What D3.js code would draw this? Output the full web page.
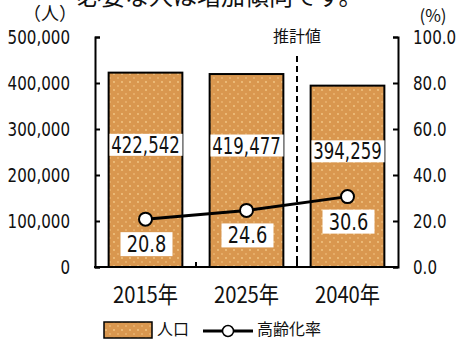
<!DOCTYPE html>
<html>
<head>
<meta charset="utf-8">
<script src="https://cdn.jsdelivr.net/npm/d3@7"></script>
<style>
  body { margin: 0; background: #fff; }
  svg { display: block; }
  .num { font-family: "DejaVu Sans Condensed", "DejaVu Sans", sans-serif; }
  .jp { font-family: "Noto Sans CJK JP", sans-serif; }
</style>
</head>
<body>
<svg id="chart" width="459" height="340"></svg>
<script>
const years = ["2015年", "2025年", "2040年"];
const population = [422542, 419477, 394259];
const agingRate = [20.8, 24.6, 30.6];
const leftTicks = [0, 100000, 200000, 300000, 400000, 500000];
const rightTicks = [0, 20, 40, 60, 80, 100];

const svg = d3.select("#chart");
const plotL = 95, plotR = 398, plotT = 37, plotB = 267;

const x = d3.scaleBand().domain(years).range([plotL, plotR]).paddingInner(0.27).paddingOuter(0.135);
const yL = d3.scaleLinear().domain([0, 500000]).range([plotB, plotT]);
const yR = d3.scaleLinear().domain([0, 100]).range([plotB, plotT]);

// squeeze numbers horizontally, the original uses a narrow face
const narrow = (px, py, s) => `translate(${px},${py}) scale(${s},1)`;

// dotted orange fill
const defs = svg.append("defs");
const pat = defs.append("pattern")
    .attr("id", "dots")
    .attr("patternUnits", "userSpaceOnUse")
    .attr("width", 8).attr("height", 8);
pat.append("rect").attr("width", 8).attr("height", 8).attr("fill", "#d9974f");
pat.append("circle").attr("cx", 2).attr("cy", 2).attr("r", 0.9).attr("fill", "#f3c887");
pat.append("circle").attr("cx", 6).attr("cy", 6).attr("r", 0.9).attr("fill", "#ecb673");

// headline cut off at the top
svg.append("text").attr("class", "jp")
    .attr("x", 77).attr("y", 5)
    .attr("font-size", 24).attr("fill", "#111")
    .text("必要な人は増加傾向です。");

// bars
svg.append("g").selectAll("rect")
    .data(population)
    .enter().append("rect")
    .attr("x", (d, i) => x(years[i]))
    .attr("y", d => yL(d))
    .attr("width", x.bandwidth())
    .attr("height", d => plotB - yL(d))
    .attr("fill", "url(#dots)")
    .attr("stroke", "#000")
    .attr("stroke-width", 2);

// estimate divider
const divX = (x(years[1]) + x.bandwidth() + x(years[2])) / 2;
svg.append("line")
    .attr("x1", divX).attr("x2", divX)
    .attr("y1", 56).attr("y2", plotB)
    .attr("stroke", "#000").attr("stroke-width", 2)
    .attr("stroke-dasharray", "6,4");
svg.append("text").attr("class", "jp")
    .attr("x", divX).attr("y", 42)
    .attr("text-anchor", "middle")
    .attr("font-size", 16).attr("fill", "#111")
    .text("推計値");

// axes
const axisL = d3.axisRight(yL).tickValues(leftTicks).tickSize(5).tickFormat("");
const gL = svg.append("g").attr("transform", `translate(${plotL},0)`).call(axisL);
const axisR = d3.axisLeft(yR).tickValues(rightTicks).tickSize(5).tickFormat("");
const gR = svg.append("g").attr("transform", `translate(${plotR},0)`).call(axisR);
[gL, gR].forEach(g => {
    g.select(".domain").attr("stroke", "#000").attr("stroke-width", 2);
    g.selectAll(".tick line").attr("stroke", "#000").attr("stroke-width", 2);
});
svg.append("line")
    .attr("x1", plotL - 1).attr("x2", plotR + 1)
    .attr("y1", plotB).attr("y2", plotB)
    .attr("stroke", "#000").attr("stroke-width", 2);
// category boundary ticks
svg.append("g").selectAll("line")
    .data(years.slice(1))
    .enter().append("line")
    .attr("x1", d => x(d) - x.step() * x.paddingInner() / 2)
    .attr("x2", d => x(d) - x.step() * x.paddingInner() / 2)
    .attr("y1", plotB).attr("y2", plotB - 5)
    .attr("stroke", "#000").attr("stroke-width", 2);

const fmtL = d3.format(",");
svg.append("g").selectAll("text")
    .data(leftTicks)
    .enter().append("text")
    .attr("class", "num")
    .attr("transform", d => narrow(70, yL(d) + 7, 0.84))
    .attr("text-anchor", "end")
    .attr("font-size", 20).attr("fill", "#111")
    .text(d => d === 0 ? "0" : fmtL(d));
svg.append("g").selectAll("text")
    .data(rightTicks)
    .enter().append("text")
    .attr("class", "num")
    .attr("transform", d => narrow(413, yR(d) + 7, 0.84))
    .attr("font-size", 20).attr("fill", "#111")
    .text(d => d.toFixed(1));

svg.append("text").attr("class", "jp")
    .attr("x", 50).attr("y", 20)
    .attr("text-anchor", "middle")
    .attr("font-size", 18).attr("fill", "#111")
    .text("（人）");
svg.append("text").attr("class", "jp")
    .attr("x", 433).attr("y", 22)
    .attr("text-anchor", "middle")
    .attr("font-size", 17).attr("fill", "#111")
    .text("(%)");

// x labels
svg.append("g").selectAll("text")
    .data(years)
    .enter().append("text")
    .attr("class", "jp")
    .attr("transform", d => narrow(x(d) + x.bandwidth() / 2, 303, 0.88))
    .attr("text-anchor", "middle")
    .attr("font-size", 23).attr("fill", "#111")
    .text(d => d);

// population labels
const popLab = svg.append("g").selectAll("g")
    .data(population)
    .enter().append("g")
    .attr("transform", (d, i) => `translate(${x(years[i]) + x.bandwidth() / 2},${(yL(d) + plotB) / 2 - 25})`);
popLab.append("rect")
    .attr("x", -36).attr("y", -11).attr("width", 73).attr("height", 22)
    .attr("fill", "#fff");
popLab.append("text")
    .attr("class", "num")
    .attr("transform", narrow(0, 8, 0.8))
    .attr("text-anchor", "middle")
    .attr("font-size", 23).attr("fill", "#111")
    .text(d => fmtL(d));

// aging rate line
const cx = (d, i) => x(years[i]) + x.bandwidth() / 2;
svg.append("path")
    .datum(agingRate)
    .attr("d", d3.line().x(cx).y(d => yR(d)))
    .attr("fill", "none")
    .attr("stroke", "#000").attr("stroke-width", 3);
svg.append("g").selectAll("circle")
    .data(agingRate)
    .enter().append("circle")
    .attr("cx", cx).attr("cy", d => yR(d))
    .attr("r", 6.5)
    .attr("fill", "#fff").attr("stroke", "#000").attr("stroke-width", 2);

const rateLab = svg.append("g").selectAll("g")
    .data(agingRate)
    .enter().append("g")
    .attr("transform", (d, i) => `translate(${cx(d, i) + 1},${yR(d) + 25})`);
rateLab.append("rect")
    .attr("x", -26).attr("y", -12).attr("width", 52).attr("height", 24)
    .attr("fill", "#fff");
rateLab.append("text")
    .attr("class", "num")
    .attr("transform", narrow(0, 8, 0.86))
    .attr("text-anchor", "middle")
    .attr("font-size", 23).attr("fill", "#111")
    .text(d => d.toFixed(1));

// legend
const leg = svg.append("g");
leg.append("rect")
    .attr("x", 104).attr("y", 322).attr("width", 48).attr("height", 16)
    .attr("fill", "url(#dots)").attr("stroke", "#000").attr("stroke-width", 1.5);
leg.append("text").attr("class", "jp")
    .attr("x", 157).attr("y", 335)
    .attr("font-size", 16).attr("fill", "#111")
    .text("人口");
leg.append("line")
    .attr("x1", 203).attr("x2", 253).attr("y1", 331).attr("y2", 331)
    .attr("stroke", "#000").attr("stroke-width", 3);
leg.append("circle")
    .attr("cx", 228).attr("cy", 331).attr("r", 5.5)
    .attr("fill", "#fff").attr("stroke", "#000").attr("stroke-width", 1.5);
leg.append("text").attr("class", "jp")
    .attr("x", 257).attr("y", 335)
    .attr("font-size", 16).attr("fill", "#111")
    .text("高齢化率");
</script>
</body>
</html>
